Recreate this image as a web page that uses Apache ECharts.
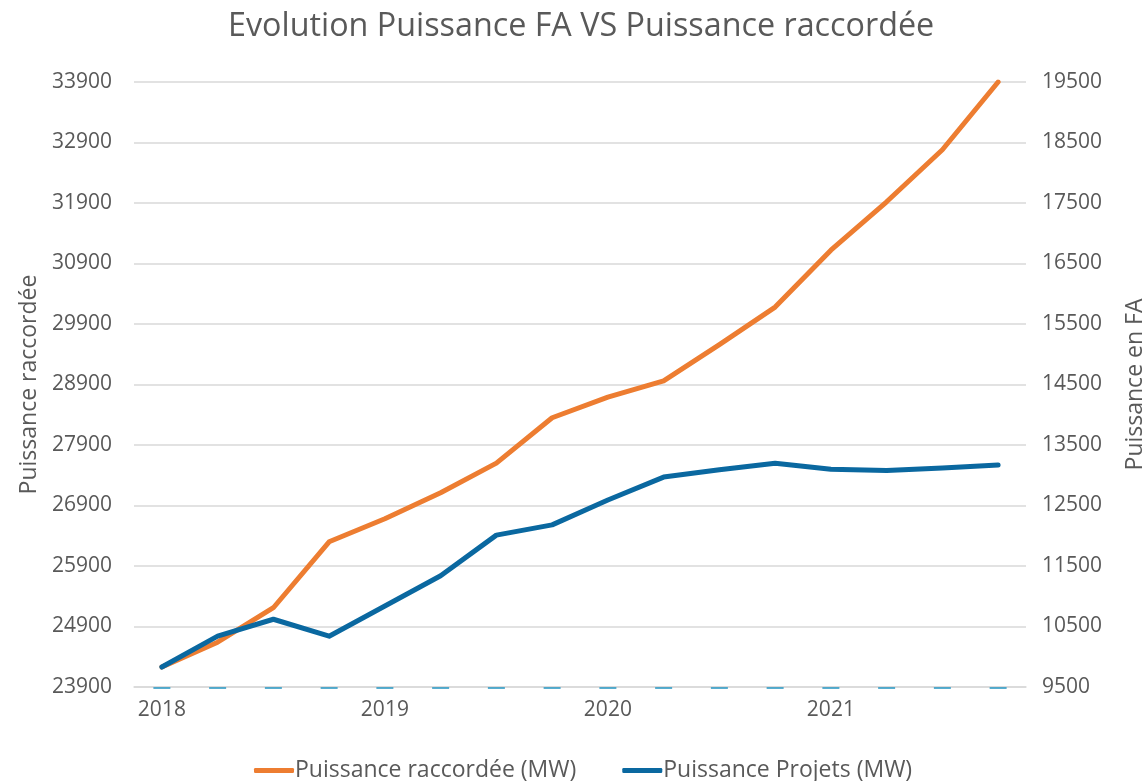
<!DOCTYPE html>
<html>
<head>
<meta charset="utf-8">
<script src="https://cdn.jsdelivr.net/npm/echarts@6/dist/echarts.min.js"></script>
<style>html,body{margin:0;padding:0;background:#fff}#c{width:1148px;height:781px}</style>
</head>
<body>
<div id="c"></div>
<script>
const categories = ['2018','2018 T2','2018 T3','2018 T4','2019','2019 T2','2019 T3','2019 T4','2020','2020 T2','2020 T3','2020 T4','2021','2021 T2','2021 T3','2021 T4'];
const raccordee = [24230,24640,25210,26300,26680,27110,27600,28350,28690,28960,29560,30180,31120,31920,32780,33900];
const projets = [9830,10340,10620,10340,10840,11340,12010,12180,12590,12970,13090,13200,13100,13080,13120,13170];
const baseTicks = categories.map(() => 23900);
const leftTicks = { min: 23900, max: 33900, interval: 1000 };
const rightTicks = { min: 9500, max: 19500, interval: 1000 };

const FONT = '"Open Sans", "Noto Sans", sans-serif';
const TXT = '#595959';
const chart = echarts.init(document.getElementById('c'), null, { renderer: 'canvas' });
chart.setOption({
  backgroundColor: '#fff',
  animation: false,
  textStyle: { fontFamily: FONT },
  title: {
    text: 'Evolution Puissance FA VS Puissance raccordée',
    left: 223, top: 6,
    textStyle: { fontFamily: FONT, fontSize: 32.3, fontWeight: 'normal', color: TXT }
  },
  legend: {
    bottom: -6, left: 249,
    itemWidth: 40, itemHeight: 5, itemGap: 46,
    icon: 'roundRect',
    data: ['Puissance raccordée (MW)', 'Puissance Projets (MW)'],
    textStyle: { fontFamily: FONT, fontSize: 23, color: TXT, padding: [0,0,0,-4] }
  },
  grid: { left: 134, right: 122, top: 82, bottom: 94, outerBoundsMode: 'none', containLabel: false },
  xAxis: {
    type: 'category', data: categories, boundaryGap: true,
    axisLine: { lineStyle: { color: '#d9d9d9', width: 1.5 } },
    axisTick: { show: false },
    axisLabel: { interval: 3, color: TXT, fontSize: 21, margin: 13, fontFamily: FONT }
  },
  yAxis: [
    {
      type: 'value', min: leftTicks.min, max: leftTicks.max, interval: leftTicks.interval,
      name: 'Puissance raccordée', nameLocation: 'middle', nameGap: 92, nameRotate: 90,
      nameTextStyle: { color: TXT, fontSize: 23, fontFamily: FONT },
      axisLine: { show: false }, axisTick: { show: false },
      axisLabel: { color: TXT, fontSize: 21, margin: 22, fontFamily: FONT, formatter: v => String(v) },
      splitLine: { lineStyle: { color: '#d9d9d9', width: 1.5 } }
    },
    {
      type: 'value', min: rightTicks.min, max: rightTicks.max, interval: rightTicks.interval,
      name: 'Puissance en FA', nameLocation: 'middle', nameGap: 98, nameRotate: 90,
      nameTextStyle: { color: TXT, fontSize: 23, fontFamily: FONT },
      axisLine: { show: false }, axisTick: { show: false },
      axisLabel: { color: TXT, fontSize: 21, margin: 16, fontFamily: FONT, formatter: v => String(v) },
      splitLine: { show: false }
    }
  ],
  series: [
    {
      name: 'ticks', type: 'scatter', yAxisIndex: 0, data: baseTicks,
      symbol: 'rect', symbolSize: [17, 2], symbolOffset: [0, 1],
      itemStyle: { color: '#2E9AC4' }, silent: true, z: 1
    },
    {
      name: 'Puissance raccordée (MW)', type: 'line', yAxisIndex: 0, data: raccordee,
      showSymbol: false, symbol: 'none',
      lineStyle: { color: '#ED7D31', width: 5, cap: 'round', join: 'round' },
      itemStyle: { color: '#ED7D31' }, z: 3
    },
    {
      name: 'Puissance Projets (MW)', type: 'line', yAxisIndex: 1, data: projets,
      showSymbol: false, symbol: 'none',
      lineStyle: { color: '#0A68A0', width: 5, cap: 'round', join: 'round' },
      itemStyle: { color: '#0A68A0' }, z: 4
    }
  ]
});
</script>
</body>
</html>
